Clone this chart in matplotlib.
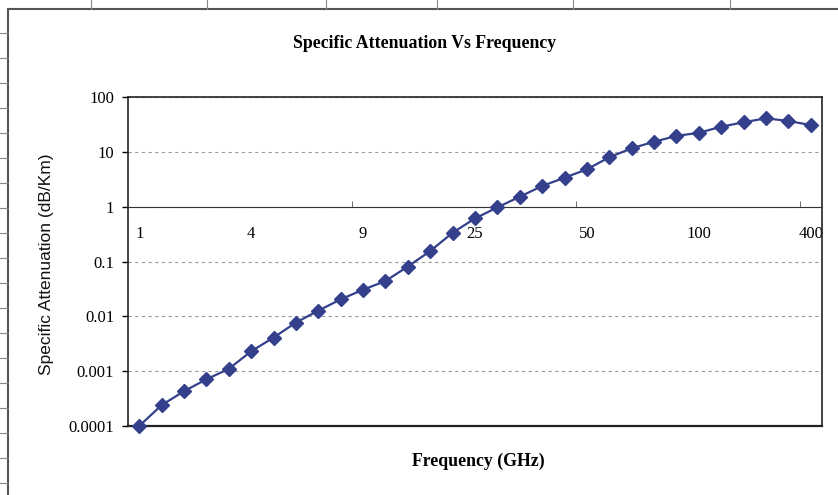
import matplotlib.pyplot as plt
from matplotlib.lines import Line2D
from matplotlib.ticker import FixedLocator, FuncFormatter

# frequency categories (GHz) and specific attenuation (dB/Km)
freq = [1, 1.5, 2, 2.5, 3, 4, 5, 6, 7, 8, 9, 10, 12, 15, 20, 25, 30, 35, 40, 45,
        50, 60, 70, 80, 90, 100, 150, 200, 250, 300, 400]
atten = [0.0001, 0.00024, 0.00043, 0.00071, 0.0011, 0.0023, 0.0041, 0.0077, 0.0127,
         0.0204, 0.0306, 0.044, 0.081, 0.155, 0.335, 0.61, 0.97, 1.52, 2.38, 3.38,
         4.8, 7.96, 11.6, 15.3, 19.5, 22.3, 28.7, 34.6, 40.9, 36.5, 30.8]
label_idx = [0, 5, 10, 15, 20, 25, 30]
y_ticks = [0.0001, 0.001, 0.01, 0.1, 1, 10, 100]

SERIF = "Liberation Serif"
NAVY = "#34408C"

fig = plt.figure(figsize=(8.38, 4.95), dpi=100)
ax = fig.add_axes([128 / 838, 69 / 495, 694 / 838, 329 / 495])

x = list(range(len(freq)))
ax.plot(x, atten, color=NAVY, linewidth=1.6, marker="D", markersize=7,
        markerfacecolor=NAVY, markeredgecolor=NAVY, zorder=4, clip_on=False)

ax.set_yscale("log")
ax.set_ylim(1e-4, 100)
ax.set_xlim(-0.5, len(freq) - 0.5)

# y axis
ax.yaxis.set_major_locator(FixedLocator(y_ticks))
ax.yaxis.set_minor_locator(FixedLocator([]))
ax.yaxis.set_major_formatter(FuncFormatter(lambda v, p: f"{v:g}" if v >= 1 else f"{v:.{len(str(v)) - 2}f}"))
ax.tick_params(axis="y", direction="out", length=4, width=1, pad=6, labelsize=12)
for t in ax.get_yticklabels():
    t.set_fontfamily(SERIF)
ax.yaxis.grid(True, which="major", color="#9A9A9A", linestyle=(0, (3, 3)), linewidth=0.8)
ax.set_axisbelow(True)

# category axis crosses at y = 1
ax.spines["bottom"].set_position(("data", 1))
ax.spines["bottom"].set_color("#333333")
ax.xaxis.set_major_locator(FixedLocator(label_idx))
ax.set_xticklabels([f"{freq[i]:g}" for i in label_idx])
ax.xaxis.set_minor_locator(FixedLocator([9.5, 19.5, 29.5]))
ax.tick_params(axis="x", which="major", length=0, pad=14, labelsize=12)
ax.tick_params(axis="x", which="minor", direction="in", length=4, color="#555555")
for t in ax.get_xticklabels():
    t.set_fontfamily(SERIF)

for side in ["left", "right", "top"]:
    ax.spines[side].set_color("#222222")
    ax.spines[side].set_linewidth(1.2)
ax.axhline(1e-4, color="#222222", linewidth=1.6, clip_on=False, zorder=3)

fig.text(425 / 838, 1 - 43 / 495, "Specific Attenuation Vs Frequency", ha="center", va="center",
         fontsize=12.8, fontweight="bold", family=SERIF)
fig.text(478 / 838, 1 - 461 / 495, "Frequency (GHz)", ha="center", va="center",
         fontsize=12.8, fontweight="bold", family=SERIF)
fig.text(47 / 838, 1 - 264 / 495, "Specific Attenuation (dB/Km)", ha="center", va="center",
         rotation=90, fontsize=12.5, family="Liberation Sans", color="#111111")

# spreadsheet frame and cell lines around the chart
W, H = 838, 495
fig.add_artist(Line2D([8 / W, 1], [1 - 9 / H, 1 - 9 / H], transform=fig.transFigure, color="#555555", lw=1.5))
fig.add_artist(Line2D([8 / W, 8 / W], [0, 1 - 9 / H], transform=fig.transFigure, color="#555555", lw=1.5))
for cx in [91, 207, 326, 437, 573, 730]:
    fig.add_artist(Line2D([cx / W, cx / W], [1 - 9 / H, 1], transform=fig.transFigure, color="#888888", lw=0.8))
for cy in range(33, 495, 25):
    fig.add_artist(Line2D([0, 8 / W], [1 - cy / H, 1 - cy / H], transform=fig.transFigure, color="#888888", lw=0.8))

fig.savefig("out.png", dpi=100, facecolor="white")
